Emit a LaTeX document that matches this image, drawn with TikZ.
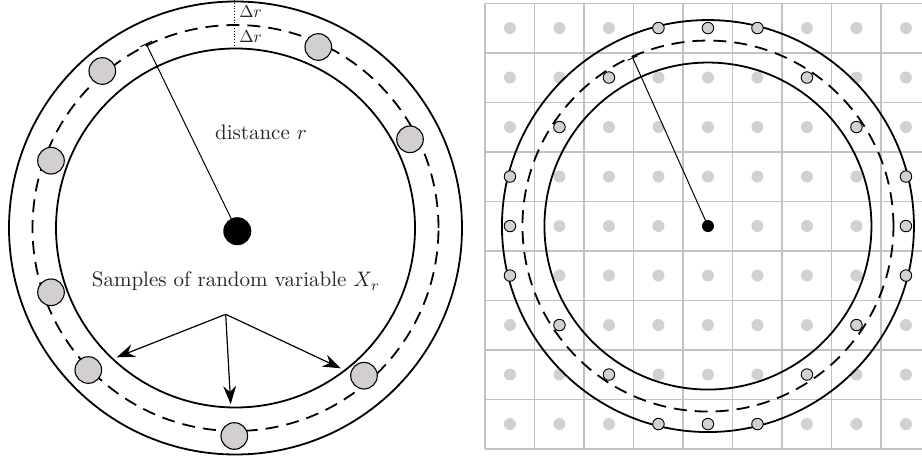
\documentclass[tikz,border=0pt]{standalone}
\usetikzlibrary{arrows.meta}
\definecolor{sampfill}{HTML}{D3CFCF}
\definecolor{gridgray}{HTML}{C2C2C2}
\definecolor{dotgray}{HTML}{D3D0D0}
\begin{document}
\begin{tikzpicture}[x=1pt,y=-1pt,
  ring/.style={line width=1.8pt},
  dashring/.style={line width=1.8pt, dash pattern=on 13pt off 8pt},
  sample/.style={circle, draw, line width=1.1pt, fill=sampfill, minimum size=26.6pt, inner sep=0pt},
  gdot/.style={circle, fill=dotgray, minimum size=12pt, inner sep=0pt},
  hdot/.style={circle, draw, line width=0.9pt, fill=dotgray, minimum size=11.5pt, inner sep=0pt},
  lbl/.style={text=black!85, font=\normalsize, inner sep=0pt, scale=2.1, transform shape},
  dlbl/.style={text=black!85, font=\normalsize, inner sep=0pt, scale=1.72, transform shape},
  radline/.style={line width=1pt},
  samparrow/.style={line width=1.2pt, -{Stealth[length=18pt,width=13pt,inset=6pt]}},
  gridline/.style={draw=gridgray, line width=1.5pt}
]
\useasboundingbox (0,0) rectangle (922,457);

% ---------------- left panel ----------------
\coordinate (CL) at (235.5,228);
\draw[ring] (CL) circle[radius=226.5pt];
\draw[ring] (CL) circle[radius=179.5pt];
\draw[dashring] (CL) circle[radius=203pt];

\coordinate (dtop) at (234,0);
\coordinate (dbot) at (234,48.5);
\draw[dotted, line width=0.8pt] (dtop) -- (dbot);
\node[dlbl, anchor=base west] (dr1) at (239,18) {$\Delta r$};
\node[dlbl, anchor=base west] (dr2) at (239,43) {$\Delta r$};

\node[circle, fill=black, minimum size=28pt, inner sep=0pt] (dotL) at (237.3,231.2) {};
\coordinate (rEndL) at (146,43.5);
\draw[radline, -{Bar[width=13pt]}] (dotL.center) -- (rEndL);

\node[lbl, anchor=base] (dist) at (261,140) {distance $r$};
\node[lbl, anchor=base] (samp) at (236,287) {Samples of random variable $X_r$};

\node[sample] (s1) at (102.3,71) {};
\node[sample] (s2) at (318.3,47) {};
\node[sample] (s3) at (410,139.3) {};
\node[sample] (s4) at (51,160.7) {};
\node[sample] (s5) at (51,292.3) {};
\node[sample] (s6) at (88.3,370) {};
\node[sample] (s7) at (234.3,436) {};
\node[sample] (s8) at (364,375.7) {};

\coordinate (fork) at (225.7,314.3);
\coordinate (a1) at (116.7,357.3);
\coordinate (a2) at (230.7,404);
\coordinate (a3) at (340.7,368.3);
\draw[samparrow] (fork) -- (a1);
\draw[samparrow] (fork) -- (a2);
\draw[samparrow] (fork) -- (a3);

% ---------------- right panel ----------------
\begin{scope}
\clip (484,0) rectangle (922,457);
\foreach \k in {0,...,9} {
  \draw[gridline] ({485.2+49.5*\k},3.3) -- ({485.2+49.5*\k},448.8);
  \draw[gridline] (485.2,{3.3+49.5*\k}) -- (935,{3.3+49.5*\k});
}
\foreach \i in {0,...,8} {
  \foreach \j in {0,...,8} {
    \node[gdot] (g-\i-\j) at ({509.95+49.5*\i},{28.05+49.5*\j}) {};
  }
}
\end{scope}

\coordinate (CR) at (707.95,226.05);
\draw[ring] (CR) circle[radius=206pt];
\draw[ring] (CR) circle[radius=163.5pt];
\draw[dashring] (CR) circle[radius=185.5pt];

\foreach \i in {0,...,8} {
  \foreach \j in {0,...,8} {
    \pgfmathtruncatemacro{\dd}{(\i-4)*(\i-4)+(\j-4)*(\j-4)}
    \ifnum\dd>10 \ifnum\dd<18
      \node[hdot] (h-\i-\j) at (g-\i-\j) {};
    \fi\fi
  }
}

\node[circle, fill=black, minimum size=12pt, inner sep=0pt] (dotR) at (CR) {};
\coordinate (rEndR) at (632.5,57.5);
\draw[radline, -{Bar[width=11pt]}] (dotR.center) -- (rEndR);
\end{tikzpicture}
\end{document}
